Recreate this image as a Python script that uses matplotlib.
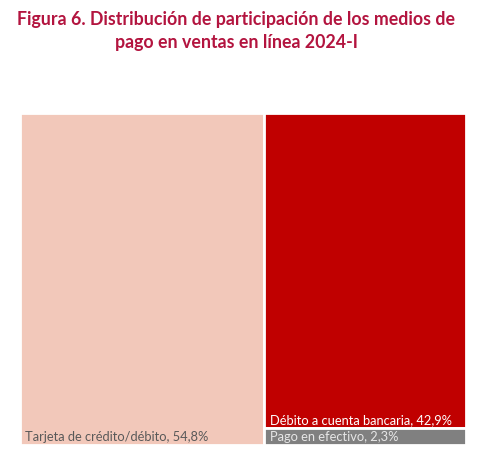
import matplotlib.pyplot as plt
from matplotlib.patches import Rectangle

# payment methods, share of online sales 2024-I (%)
labels = ["Tarjeta de crédito/débito", "Débito a cuenta bancaria", "Pago en efectivo"]
shares = [54.8, 42.9, 2.3]
colors = ["#F2C8BA", "#C00000", "#808080"]
text_colors = ["#595959", "#FFFFFF", "#E6E6E6"]

plt.rcParams['font.family'] = ['Lato', 'DejaVu Sans']

fig = plt.figure(figsize=(4.78, 4.57), dpi=100)
ax = fig.add_axes([20 / 478, 12 / 457, 446 / 478, 332 / 457])
ax.set_xlim(0, 1)
ax.set_ylim(0, 1)
ax.axis('off')

total = sum(shares)

# first item takes a full-height column, the rest stack in the remaining column
w0 = shares[0] / total
rects = [(0, 0, w0, 1)]
rest = sum(shares[1:])
y = 1.0
for s in shares[1:]:
    h = s / rest
    y -= h
    rects.append((w0, y, 1 - w0, h))

for (x0, y0, w, h), lab, s, c, tc in zip(rects, labels, shares, colors, text_colors):
    ax.add_patch(Rectangle((x0, y0), w, h, facecolor=c, edgecolor='white', linewidth=2))
    txt = "%s, %s%%" % (lab, ("%.1f" % s).replace('.', ','))
    ax.text(x0 + 0.012, y0 + 0.006, txt, color=tc, fontsize=9.3,
            ha='left', va='bottom')

fig.text(0.494, 0.975, "Figura 6. Distribución de participación de los medios de\npago en ventas en línea 2024-I",
         ha='center', va='top', fontsize=12.8, fontweight='bold', color='#B3143F',
         linespacing=1.4)

fig.savefig("out.png", dpi=100)
